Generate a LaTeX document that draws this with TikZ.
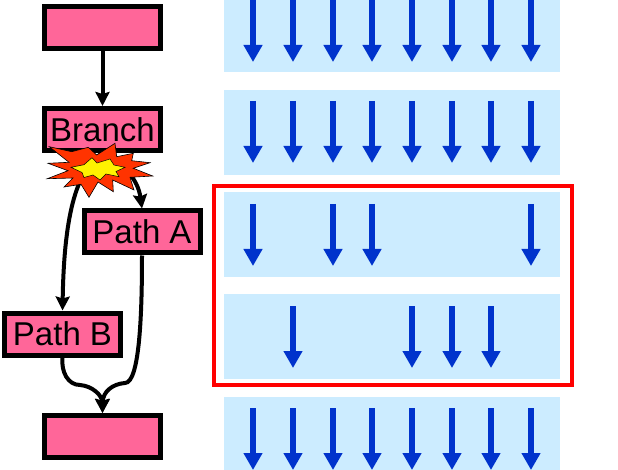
\documentclass[tikz,border=0pt]{standalone}
\usepackage{fontspec}
\setmainfont{Liberation Sans}
\usepackage{xcolor}
\definecolor{boxpink}{HTML}{FF6699}
\definecolor{panelblue}{HTML}{CCECFF}
\definecolor{arrowblue}{HTML}{0033CC}
\definecolor{blastred}{HTML}{FF3300}
\usetikzlibrary{arrows.meta, positioning}

\begin{document}
\begin{tikzpicture}[x=1pt, y=-1pt,
    blk/.style={rectangle, draw=black, line width=5pt, fill=boxpink,
                minimum width=116pt, minimum height=42pt, inner sep=0pt,
                font=\fontsize{33}{36}\selectfont},
    panel/.style={rectangle, fill=panelblue, minimum width=336pt, inner sep=0pt},
    a/.style={-{Stealth[length=14pt, width=14pt, inset=2pt]}, draw=black, line width=4pt},
    flow/.style={-{Stealth[length=17pt, width=18pt, inset=0pt]}, draw=arrowblue, line width=5.5pt}]
  \useasboundingbox (0,0) rectangle (618,470);
  \clip (0,0) rectangle (618,470);
  % data streams
  \foreach \name/\ya/\yb/\ys/\xlist in {
      p1/0/72/-11/{253,293,333,372,412,452,491,531},
      p2/90/175/90/{253,293,333,372,412,452,491,531},
      p3/192/277/193/{253,333,372,531},
      p4/294/379/295/{293,412,452,491},
      p5/397/490/397/{253,293,333,372,412,452,491,531}} {
    \node[panel, minimum height=\yb pt-\ya pt, anchor=north west] (\name) at (224,\ya) {};
    \foreach \x in \xlist {
      \coordinate (\name s\x) at (\x,\ys+11);
      \coordinate (\name e\x) at (\x,\ys+73);
      \draw[flow] (\name s\x) -- (\name e\x);
    }
  }
  \draw[red, line width=4pt] (213.5,186.5) rectangle (571.5,384.5);
  % control flow
  \node[blk] (entry) at (102.5,28) {};
  \node[blk, below=54.5pt of entry] (branch) {Branch};
  \node[blk] (pa) at (142,232) {Path A};
  \node[blk] (pb) at (62.5,334) {Path B};
  \node[blk] (exit) at (102.5,436.5) {};
  \draw[a] (entry) -- (branch);
  \draw[a] (branch.south) .. controls (125,165) and (138,180) .. (pa.north);
  \draw[a] (branch.south) .. controls (75,170) and (64,220) .. (pb.north);
  \draw[a] (pa.south) .. controls (142,310) and (140,383) .. (125,383)
    .. controls (112,384) and (103,392) .. (exit.north);
  \draw[a] (pb.south) .. controls (61,372) and (68,385) .. (80,385)
    .. controls (92,386) and (102,395) .. (exit.north);
  % burst
  \draw[fill=blastred, draw=black, line width=0.6pt]
    (49.3,146.7) -- (71.7,151.7) -- (88.3,147.3) -- (96.7,155) -- (115,143.3) -- (116.7,156.7)
    -- (133.3,153.3) -- (131.7,160.7) -- (150,162.7) -- (133.3,168.3) -- (152.7,176)
    -- (130,177.3) -- (134,190) -- (112.7,180) -- (113.3,191.7) -- (98,182) -- (89,197.3)
    -- (81,184.3) -- (64,187) -- (73,178) -- (47.3,178.7) -- (68,170.7) -- (48,163.3)
    -- (69,162.3) -- cycle;
  \draw[fill=yellow, draw=black, line width=0.5pt]
    (71,167.3) -- (84,164.7) -- (92,157.7) -- (97,163) -- (110,159) -- (114,165) -- (125,167.3)
    -- (116,171.5) -- (119,176.7) -- (106,174) -- (100,180) -- (93,175) -- (84,177.5)
    -- (82,172.5) -- cycle;
\end{tikzpicture}
\end{document}
